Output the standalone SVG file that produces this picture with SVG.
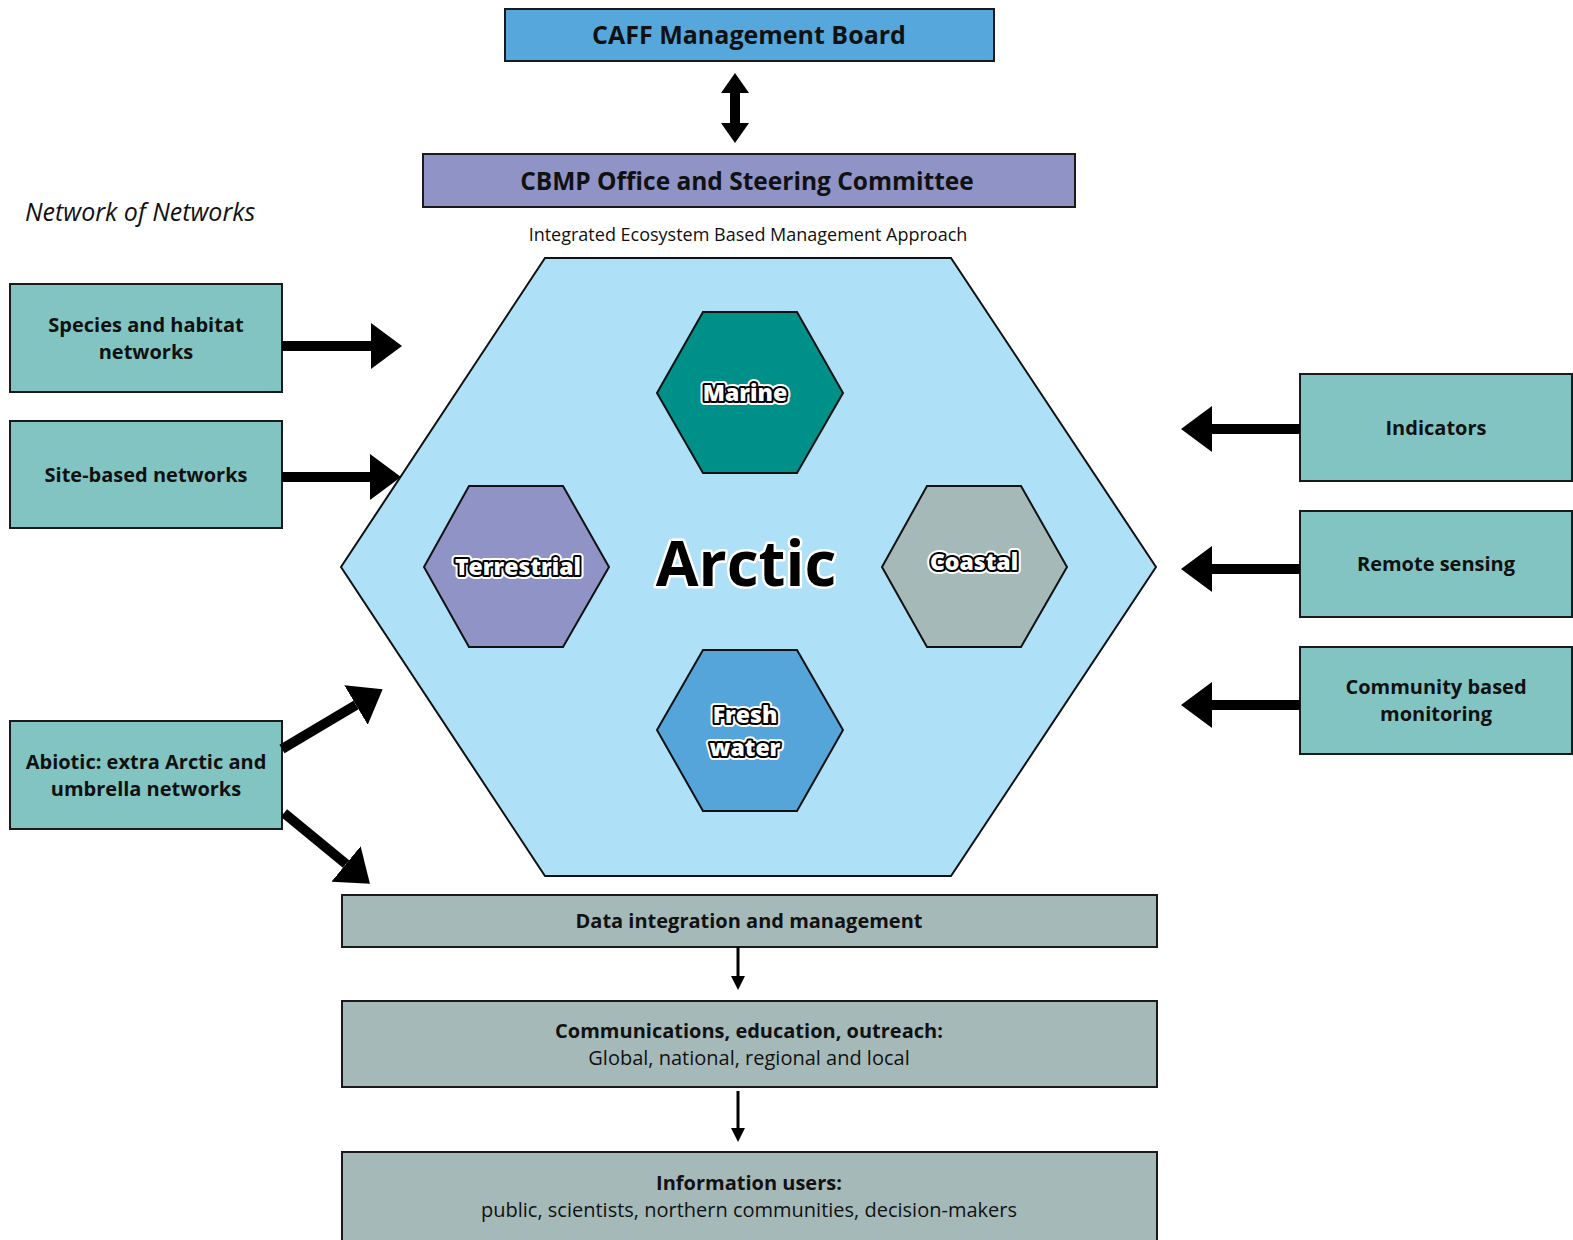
<svg xmlns="http://www.w3.org/2000/svg" width="1573" height="1240" viewBox="0 0 1573 1240">
<defs>
<style>
.box{stroke:#1a1a1a;stroke-width:2}
.teal{fill:#82c4c1}
.grey{fill:#a5b9b9}
.t{font-family:"Open Sans","Liberation Sans",sans-serif;fill:#111;text-anchor:middle}
.b{font-weight:700}
.hex{stroke:#111;stroke-width:2}
.halo{font-family:"Open Sans","Liberation Sans",sans-serif;font-weight:800;text-anchor:middle;fill:#fff;stroke:#fff;stroke-width:8;stroke-linejoin:round}
.lab{font-family:"Open Sans","Liberation Sans",sans-serif;font-weight:800;text-anchor:middle;fill:#fff;stroke:#000;stroke-width:4;paint-order:stroke;stroke-linejoin:round}
.thick{stroke:#000;stroke-width:10;fill:none}
.thin{stroke:#000;stroke-width:3;fill:none}
</style>
<marker id="bigHead" markerUnits="userSpaceOnUse" viewBox="0 0 31 46" refX="0" refY="23" markerWidth="31" markerHeight="46" orient="auto">
<path d="M0,0 L31,23 L0,46 z" fill="#000"/>
</marker>
<marker id="midHead" markerUnits="userSpaceOnUse" viewBox="0 0 20 28" refX="0" refY="14" markerWidth="20" markerHeight="28" orient="auto-start-reverse">
<path d="M0,0 L20,14 L0,28 z" fill="#000"/>
</marker>
<marker id="smallHead" markerUnits="userSpaceOnUse" viewBox="0 0 14 14" refX="0" refY="7" markerWidth="14" markerHeight="14" orient="auto">
<path d="M0,0 L14,7 L0,14 z" fill="#000"/>
</marker>
</defs>
<rect width="1573" height="1240" fill="#fff"/>

<g id="caff-board">
<rect class="box" x="505" y="9" width="489" height="52" fill="#56a8dc"/>
<text class="t b" x="749" y="44" font-size="25">CAFF Management Board</text>
</g>

<g id="cbmp-office">
<rect class="box" x="423" y="154" width="652" height="53" fill="#8f93c6"/>
<text class="t b" x="747" y="190" font-size="24.5">CBMP Office and Steering Committee</text>
</g>

<text class="t" x="748" y="241" font-size="18">Integrated Ecosystem Based Management Approach</text>
<text class="t" x="25" y="221" font-size="25" font-style="italic" style="text-anchor:start">Network of Networks</text>

<g id="arctic">
<polygon class="hex" points="545,258 951,258 1156,567 951,876 545,876 341,567" fill="#aee0f7"/>
<text x="746" y="586" font-size="62" font-family="'Open Sans','Liberation Sans',sans-serif" font-weight="700" text-anchor="middle" fill="#000" stroke="#fff" stroke-width="5" paint-order="stroke" stroke-linejoin="round">Arctic</text>
</g>

<g id="marine">
<polygon class="hex" points="703,312 797,312 843,393 797,473 703,473 657,393" fill="#00908a"/>
<text class="halo" x="745" y="401" font-size="23">Marine</text>
<text class="lab" x="745" y="401" font-size="23">Marine</text>
</g>

<g id="terrestrial">
<polygon class="hex" points="469,486 563,486 609,567 563,647 469,647 424,567" fill="#8f93c6"/>
<text class="halo" x="518" y="575" font-size="23">Terrestrial</text>
<text class="lab" x="518" y="575" font-size="23">Terrestrial</text>
</g>

<g id="coastal">
<polygon class="hex" points="927,486 1021,486 1067,567 1021,647 927,647 882,567" fill="#a5b9b9"/>
<text class="halo" x="974" y="570" font-size="23">Coastal</text>
<text class="lab" x="974" y="570" font-size="23">Coastal</text>
</g>

<g id="fresh-water">
<polygon class="hex" points="703,650 797,650 843,730 797,811 703,811 657,730" fill="#55a5db"/>
<text class="halo" x="745" y="723" font-size="23">Fresh</text>
<text class="lab" x="745" y="723" font-size="23">Fresh</text>
<text class="halo" x="745" y="756" font-size="23">water</text>
<text class="lab" x="745" y="756" font-size="23">water</text>
</g>

<g id="species-habitat">
<rect class="box teal" x="10" y="284" width="272" height="108"/>
<text class="t b" x="146" y="332" font-size="20">Species and habitat</text>
<text class="t b" x="146" y="359" font-size="20">networks</text>
</g>

<g id="site-based">
<rect class="box teal" x="10" y="421" width="272" height="107"/>
<text class="t b" x="146" y="482" font-size="20">Site-based networks</text>
</g>

<g id="abiotic">
<rect class="box teal" x="10" y="721" width="272" height="108"/>
<text class="t b" x="146" y="769" font-size="20">Abiotic: extra Arctic and</text>
<text class="t b" x="146" y="796" font-size="20">umbrella networks</text>
</g>

<g id="indicators">
<rect class="box teal" x="1300" y="374" width="272" height="107"/>
<text class="t b" x="1436" y="435" font-size="20">Indicators</text>
</g>

<g id="remote-sensing">
<rect class="box teal" x="1300" y="511" width="272" height="106"/>
<text class="t b" x="1436" y="571" font-size="20">Remote sensing</text>
</g>

<g id="community-monitoring">
<rect class="box teal" x="1300" y="647" width="272" height="107"/>
<text class="t b" x="1436" y="694" font-size="20">Community based</text>
<text class="t b" x="1436" y="721" font-size="20">monitoring</text>
</g>

<g id="data-integration">
<rect class="box grey" x="342" y="895" width="815" height="52"/>
<text class="t b" x="749" y="928" font-size="20">Data integration and management</text>
</g>

<g id="communications">
<rect class="box grey" x="342" y="1001" width="815" height="86"/>
<text class="t b" x="749" y="1038" font-size="20">Communications, education, outreach:</text>
<text class="t" x="749" y="1065" font-size="20">Global, national, regional and local</text>
</g>

<g id="information-users">
<rect class="box grey" x="342" y="1152" width="815" height="100"/>
<text class="t b" x="749" y="1190" font-size="20">Information users:</text>
<text class="t" x="749" y="1217" font-size="20">public, scientists, northern communities, decision-makers</text>
</g>

<g id="connectors">
<line class="thick" x1="735" y1="93" x2="735" y2="123" stroke-width="9" marker-start="url(#midHead)" marker-end="url(#midHead)"/>
<line class="thick" x1="282" y1="346" x2="371" y2="346" marker-end="url(#bigHead)"/>
<line class="thick" x1="282" y1="477" x2="370" y2="477" marker-end="url(#bigHead)"/>
<line class="thick" x1="282" y1="749" x2="356" y2="705" marker-end="url(#bigHead)"/>
<line class="thick" x1="284" y1="813" x2="346" y2="864" marker-end="url(#bigHead)"/>
<line class="thick" x1="1300" y1="429" x2="1212" y2="429" marker-end="url(#bigHead)"/>
<line class="thick" x1="1300" y1="569" x2="1212" y2="569" marker-end="url(#bigHead)"/>
<line class="thick" x1="1300" y1="705" x2="1212" y2="705" marker-end="url(#bigHead)"/>
<line class="thin" x1="738" y1="947" x2="738" y2="976" marker-end="url(#smallHead)"/>
<line class="thin" x1="738" y1="1091" x2="738" y2="1128" marker-end="url(#smallHead)"/>
</g>
</svg>
